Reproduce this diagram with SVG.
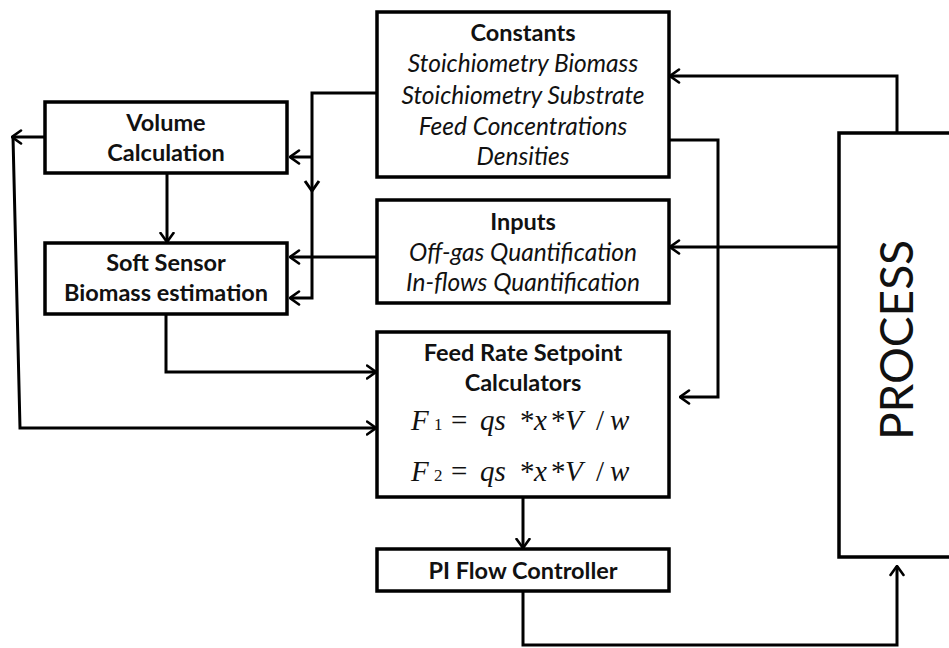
<svg xmlns="http://www.w3.org/2000/svg" width="949" height="648" viewBox="0 0 949 648">
<defs>
<marker id="arr" viewBox="0 0 12 16" refX="10.5" refY="8" markerWidth="12" markerHeight="16" markerUnits="userSpaceOnUse" orient="auto">
<path d="M1.5,1.5 L10.5,8 L1.5,14.5" fill="none" stroke="#000" stroke-width="2.6" stroke-linecap="round" stroke-linejoin="miter"/>
</marker>
<style>
.box{fill:#fff;stroke:#000;stroke-width:3.5}
.ln{fill:none;stroke:#000;stroke-width:3}
.la{fill:none;stroke:#000;stroke-width:3;marker-end:url(#arr)}
.b{font-family:Lato,"Open Sans","Liberation Sans",sans-serif;font-weight:bold;font-size:23.5px;fill:#111;text-anchor:middle}
.i{font-family:Lato,"Open Sans","Liberation Sans",sans-serif;font-style:italic;font-size:24.5px;fill:#111;text-anchor:middle}
.m{font-family:"Liberation Serif","Times New Roman",serif;font-size:29px;fill:#111}
.mi{font-style:italic}
.sub{font-size:17px}
.p{font-family:Lato,"Open Sans","Liberation Sans",sans-serif;font-size:46px;fill:#111;text-anchor:middle}
</style>
</defs>
<g id="connectors">
<path class="la" d="M377,93 H312 V298 H290"/>
<path class="la" d="M312,157 H290"/>
<path class="ln" d="M305,181 L312,191 L319,181" stroke-width="2.6"/>
<path class="la" d="M377,257 H290"/>
<path class="la" d="M167,173 V242"/>
<path class="la" d="M45,137 H12"/>
<path class="la" d="M13,137 L20,428 H376"/>
<path class="la" d="M166,314 V372 H376"/>
<path class="la" d="M669,140 H718 V397 H680"/>
<path class="la" d="M897,133 V76 H670"/>
<path class="la" d="M839,247 H670"/>
<path class="la" d="M523,497 V548"/>
<path class="la" d="M523,591 V645 H897 V566"/>
</g>
<g id="constants">
<rect class="box" x="377" y="12" width="292" height="165"/>
<text class="b" x="523" y="41">Constants</text>
<text class="i" x="523" y="72">Stoichiometry Biomass</text>
<text class="i" x="523" y="104">Stoichiometry Substrate</text>
<text class="i" x="523" y="135">Feed Concentrations</text>
<text class="i" x="523" y="165">Densities</text>
</g>
<g id="inputs">
<rect class="box" x="377" y="200" width="292" height="103"/>
<text class="b" x="523" y="230">Inputs</text>
<text class="i" x="523" y="261">Off-gas Quantification</text>
<text class="i" x="523" y="291">In-flows Quantification</text>
</g>
<g id="volume">
<rect class="box" x="45" y="102" width="242" height="71"/>
<text class="b" x="166" y="131">Volume</text>
<text class="b" x="166" y="161">Calculation</text>
</g>
<g id="softsensor">
<rect class="box" x="45" y="243" width="242" height="71"/>
<text class="b" x="166" y="271">Soft Sensor</text>
<text class="b" x="166" y="301">Biomass estimation</text>
</g>
<g id="feedrate">
<rect class="box" x="377" y="332" width="292" height="165"/>
<text class="b" x="523" y="361">Feed Rate Setpoint</text>
<text class="b" x="523" y="391">Calculators</text>
<text class="m" y="430"><tspan class="mi" x="411">F</tspan><tspan class="sub" x="434">1</tspan><tspan x="451">=</tspan><tspan class="mi" x="480">qs</tspan><tspan x="520">*</tspan><tspan class="mi" x="534">x</tspan><tspan x="551">*</tspan><tspan class="mi" x="565">V</tspan><tspan x="596">/</tspan><tspan class="mi" x="610">w</tspan></text>
<text class="m" y="481"><tspan class="mi" x="411">F</tspan><tspan class="sub" x="434">2</tspan><tspan x="451">=</tspan><tspan class="mi" x="480">qs</tspan><tspan x="520">*</tspan><tspan class="mi" x="534">x</tspan><tspan x="551">*</tspan><tspan class="mi" x="565">V</tspan><tspan x="596">/</tspan><tspan class="mi" x="610">w</tspan></text>
</g>
<g id="pi">
<rect class="box" x="377" y="549" width="292" height="42"/>
<text class="b" x="523" y="579">PI Flow Controller</text>
</g>
<g id="process">
<path class="box" d="M952,133 H839 V557 H952"/>
<text class="p" transform="translate(913,340) rotate(-90)">PROCESS</text>
</g>
</svg>
